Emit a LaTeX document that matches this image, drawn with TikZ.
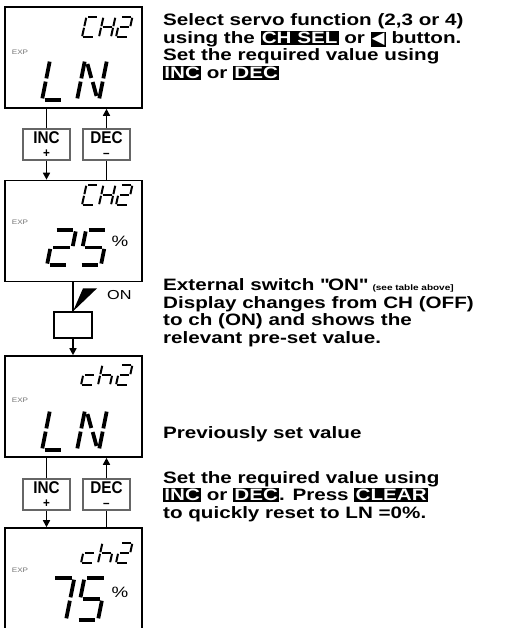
\documentclass[tikz,border=0pt]{standalone}
\usepackage{fontspec}
\setmainfont{Liberation Sans}[FakeStretch=1.25]
\newfontfamily\labelfont{Liberation Sans}[FakeStretch=0.9]
\newfontfamily\symfont{DejaVu Sans}
\usetikzlibrary{arrows.meta}

\newcommand{\keycap}[1]{{\setlength{\fboxsep}{1.2pt}\colorbox{black}{\textcolor{white}{#1}}}}
\newcommand{\lcdchar}[3]{%
  \begin{scope}[shift={#2}, #1]
    \foreach \s in {#3} {\pic[transform shape] {seg \s};}
  \end{scope}}

\tikzset{
  lcdbox/.style={draw, line width=1.6pt, minimum width=137pt, minimum height=101pt, inner sep=0pt},
  btnbox/.style={draw=black!60, line width=1.2pt, minimum width=47pt, minimum height=31pt,
    inner sep=0pt, align=center, font=\labelfont\bfseries\fontsize{17}{14}\selectfont},
  flow/.style={line width=1.6pt},
  flowarrow/.style={flow, -{Triangle[width=7pt,length=7pt]}},
  note/.style={anchor=base west, align=left, inner sep=0pt, font=\bfseries\fontsize{16.5}{17.5}\selectfont},
  exp/.style={font=\fontsize{6.5}{7}\selectfont, text=black!55, inner sep=0pt},
  pct/.style={font=\fontsize{15}{15}\selectfont, inner sep=0pt},
  lcdsmall/.style={x=12pt, y=10pt, xslant=0.22, line width=2pt},
  lcdbig/.style={x=22pt, y=20pt, xslant=0.2, line width=3.8pt},
  lcdmid/.style={x=22pt, y=17.5pt, xslant=0.2, line width=3.8pt},
  lcdtall/.style={x=22pt, y=21pt, xslant=0.2, line width=3.8pt},
  seg a/.pic={\draw (0.12,2) -- (0.88,2);},
  seg b/.pic={\draw (1,1.92) -- (1,1.08);},
  seg c/.pic={\draw (1,0.92) -- (1,0.08);},
  seg d/.pic={\draw (0.12,0) -- (0.88,0);},
  seg e/.pic={\draw (0,0.92) -- (0,0.08);},
  seg f/.pic={\draw (0,1.92) -- (0,1.08);},
  seg g/.pic={\draw (0.12,1) -- (0.88,1);},
  seg h/.pic={\draw (0.15,1.8) -- (0.45,1.1);},
  seg i/.pic={\draw (0.55,0.9) -- (0.85,0.2);}
}

\begin{document}
\begin{tikzpicture}[x=1pt, y=-1pt]
  \useasboundingbox (0,0) rectangle (506,628);
  % Displays.
  \node[lcdbox] (disp1) at (73.5,57.5) {};
  \node[lcdbox] (disp2) at (73.5,231) {};
  \node[lcdbox] (disp3) at (73.5,406.5) {};
  \node[lcdbox] (disp4) at (73.5,578.5) {};
  % Display 1: CH2 / LN.
  \lcdchar{lcdsmall}{(82,37)}{a,f,e,d}
  \lcdchar{lcdsmall}{(99,37)}{f,e,g,b,c}
  \lcdchar{lcdsmall}{(116,37)}{a,b,g,e,d}
  \node[exp] (exp1) at (20,52) {EXP};
  \lcdchar{lcdbig}{(42,100)}{f,e,d}
  \lcdchar{lcdbig}{(77,100)}{f,e,b,c,h,i}
  % Display 2: CH2 / 25 %.
  \lcdchar{lcdsmall}{(82,205)}{a,f,e,d}
  \lcdchar{lcdsmall}{(99,205)}{f,e,g,b,c}
  \lcdchar{lcdsmall}{(116,205)}{a,b,g,e,d}
  \node[exp] (exp2) at (20,222) {EXP};
  \lcdchar{lcdmid}{(47,265)}{a,b,g,e,d}
  \lcdchar{lcdmid}{(79,265)}{a,f,g,c,d}
  \node[pct] (pct2) at (120,241) {\%};
  % Display 3: ch2 / LN.
  \lcdchar{lcdsmall}{(81,385)}{g,e,d}
  \lcdchar{lcdsmall}{(98,385)}{f,e,g,c}
  \lcdchar{lcdsmall}{(116,385)}{a,b,g,e,d}
  \node[exp] (exp3) at (20,400) {EXP};
  \lcdchar{lcdbig}{(42,450)}{f,e,d}
  \lcdchar{lcdbig}{(77,450)}{f,e,b,c,h,i}
  % Display 4: ch2 / 75 %.
  \lcdchar{lcdsmall}{(81,563)}{g,e,d}
  \lcdchar{lcdsmall}{(98,563)}{f,e,g,c}
  \lcdchar{lcdsmall}{(116,563)}{a,b,g,e,d}
  \node[exp] (exp4) at (20,570) {EXP};
  \lcdchar{lcdtall}{(44,620)}{a,b,c}
  \lcdchar{lcdtall}{(76,620)}{a,f,g,c,d}
  \node[pct] (pct4) at (120,592) {\%};
  % INC / DEC buttons between the displays.
  \node[btnbox] (inc1) at (46.5,144.5) {INC\\{\fontsize{13}{13}\selectfont +}};
  \node[btnbox] (dec1) at (106.5,144.5) {DEC\\{\fontsize{13}{13}\selectfont –}};
  \node[btnbox] (inc2) at (46.5,494.5) {INC\\{\fontsize{13}{13}\selectfont +}};
  \node[btnbox] (dec2) at (106.5,494.5) {DEC\\{\fontsize{13}{13}\selectfont –}};
  \draw[flow] (inc1.north |- disp1.south) -- (inc1.north);
  \draw[flowarrow] (inc1.south) -- (inc1.south |- disp2.north);
  \draw[flow] (dec1.south |- disp2.north) -- (dec1.south);
  \draw[flowarrow] (dec1.north) -- (dec1.north |- disp1.south);
  \draw[flow] (inc2.north |- disp3.south) -- (inc2.north);
  \draw[flowarrow] (inc2.south) -- (inc2.south |- disp4.north);
  \draw[flow] (dec2.south |- disp4.north) -- (dec2.south);
  \draw[flowarrow] (dec2.north) -- (dec2.north |- disp3.south);
  % External switch.
  \node[draw, line width=1.3pt, minimum width=38pt, minimum height=26pt] (sw) at (73,325) {};
  \draw[flow] (sw.north |- disp2.south) -- (sw.north);
  \fill (sw.north) -- ++(10,-23) -- ++(14,0) -- cycle;
  \draw[flowarrow] (sw.south) -- (sw.south |- disp3.north);
  \node[anchor=west, inner sep=0pt, font=\fontsize{13}{13}\selectfont] (on) at (107,295) {ON};
  % Notes (anchored on the baseline of their last line).
  \node[note] (selectnote) at (163,78.5) {Select servo function (2,3 or 4)\\
    using the \keycap{CH SEL} or \keycap{\symfont ◀} button.\\
    Set the required value using\\
    \keycap{INC} or \keycap{DEC}};
  \node[note] (switchnote) at (163,343) {External switch \textquotedbl ON\textquotedbl\ {\fontsize{8}{8}\selectfont (see table above]}\\
    Display changes from CH (OFF)\\
    to ch (ON) and shows the\\
    relevant pre-set value.};
  \node[note] (prevnote) at (163,438) {Previously set value};
  \node[note] (setnote) at (163,518) {Set the required value using\\
    \keycap{INC} or \keycap{DEC}. Press \keycap{CLEAR}\\
    to quickly reset to LN =0\%.};
\end{tikzpicture}
\end{document}
